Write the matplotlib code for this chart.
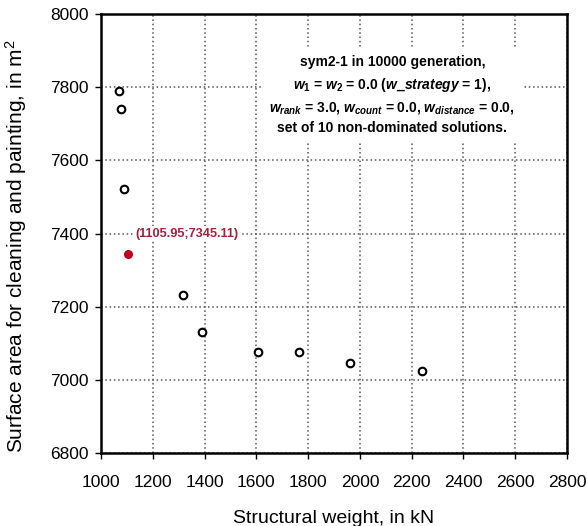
import matplotlib
matplotlib.use("Agg")
import matplotlib.pyplot as plt

plt.rcParams['font.family'] = ['Liberation Sans', 'DejaVu Sans']
plt.rcParams['mathtext.fontset'] = 'custom'
plt.rcParams['mathtext.rm'] = 'Liberation Sans:bold'
plt.rcParams['mathtext.it'] = 'Liberation Sans:italic:bold'
plt.rcParams['mathtext.bf'] = 'Liberation Sans:bold'

# non-dominated solutions
weight = [1070, 1079, 1088, 1317, 1389, 1606, 1763, 1963, 2241]
area = [7790, 7742, 7521, 7231, 7131, 7075, 7076, 7046, 7025]
sel_weight = 1105.95
sel_area = 7345.11

xticks = [1000, 1200, 1400, 1600, 1800, 2000, 2200, 2400, 2600, 2800]
yticks = [6800, 7000, 7200, 7400, 7600, 7800, 8000]

fig = plt.figure(figsize=(5.87, 5.26), dpi=100)
ax = fig.add_axes([0.172, 0.139, 0.794, 0.834])

ax.scatter(weight, area, s=30, facecolors='white', edgecolors='black', linewidths=1.5, zorder=5)
ax.scatter([sel_weight], [sel_area], s=30, color='#c0001e', zorder=5)

ax.set_xlim(1000, 2800)
ax.set_ylim(6800, 8000)
ax.set_xticks(xticks)
ax.set_yticks(yticks)
ax.tick_params(labelsize=12.5, direction='out', length=4, width=1)
ax.tick_params(axis='x', pad=12)
ax.tick_params(axis='y', pad=5)
ax.grid(True, linestyle=(0, (1, 1.8)), color='#555555', linewidth=1.1)
for s in ax.spines.values():
    s.set_linewidth(1.8)

ax.set_xlabel('Structural weight, in kN', fontsize=14, labelpad=14)
ax.set_ylabel('Surface area for cleaning and painting, in m$^{\\mathregular{2}}$', fontsize=15)
ax.yaxis.set_label_coords(-0.155, 0.47)

ax.annotate('(1105.95;7345.11)', xy=(sel_weight, sel_area), xytext=(1132, 7400),
            fontsize=9.2, fontweight='bold', color='#a3203c', va='center', ha='left',
            bbox=dict(facecolor='white', edgecolor='none', pad=1), zorder=6)

info = ('sym2-1 in 10000 generation,\n'
        '$w_1$ = $w_2$ = 0.0 ($w$_$strategy$ = 1),\n'
        '$w_{rank}$ = 3.0, $w_{count}$ = 0.0, $w_{distance}$ = 0.0,\n'
        'set of 10 non-dominated solutions.')
ax.text(0.625, 0.907, info, transform=ax.transAxes, ha='center', va='top',
        fontsize=10, fontweight='bold', linespacing=1.52,
        bbox=dict(facecolor='white', edgecolor='none', pad=5), zorder=6)

fig.savefig('out.png', dpi=100)
